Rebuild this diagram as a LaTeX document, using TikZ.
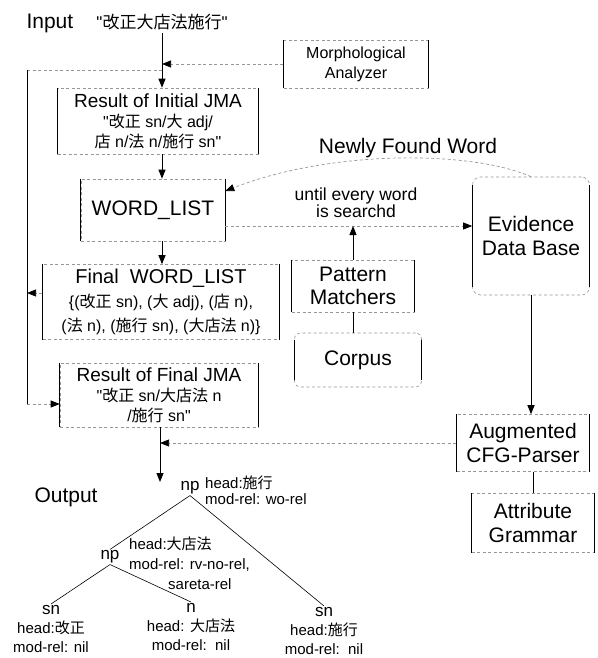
\documentclass[tikz,border=0pt]{standalone}
\usepackage{fontspec}
\setmainfont{Liberation Sans}[Ligatures=TeXOff]
\newfontfamily\jpfont{Noto Sans CJK JP}
\usetikzlibrary{arrows.meta}
\definecolor{scanline}{RGB}{150,150,150}
\newcommand{\jp}[1]{{\jpfont #1}}
\newcommand{\fsz}[2]{\fontsize{#1}{#2}\selectfont}
\newcommand{\dq}{\symbol{34}}
% solid left/right edges of a box (optionally inset for rounded ones)
\newcommand{\boxsides}[2][0]{%
  \draw[side] ([yshift=-#1pt]#2.north west) -- ([yshift=#1pt]#2.south west)
              ([yshift=-#1pt]#2.north east) -- ([yshift=#1pt]#2.south east);
}

\begin{document}
\begin{tikzpicture}[x=1pt,y=-1pt,
  box/.style={draw=scanline,dash pattern=on 3pt off 2.5pt,line width=0.6pt,
              inner sep=0pt,align=center},
  db/.style={box,rounded corners=8pt},
  side/.style={black,line width=1.1pt},
  faint/.style={scanline,dash pattern=on 3pt off 2.5pt,line width=0.7pt},
  arr/.style={line width=1pt,-{Triangle[length=9pt,width=7pt]}},
  harr/.style={faint,-{Triangle[length=9pt,width=7pt,color=black]}},
  big/.style={font=\fsz{21}{24}},
  tree/.style={line width=0.6pt}]
  \useasboundingbox (0,0) rectangle (597,658);
  \coordinate (col) at (162,0);
  \coordinate (outcol) at (160,0);
  \coordinate (loopt) at (27,70);
  \coordinate (loopb) at (27,404);
  \coordinate (srch) at (352,226);
  \coordinate (outtip) at (160,482);

  % --- Input and morphological analysis ---
  \node[big,anchor=west] (input) at (23,23) {Input};
  \node[font=\fsz{17}{20}] (instr) at (162,22) {\dq\jp{改正大店法施行}\dq};
  \node[box,minimum width=145,minimum height=48,font=\fsz{16}{20}] (morph) at (356,64)
    {Morphological\\Analyzer};
  \node[box,minimum width=201,minimum height=66,font=\fsz{16}{20}] (init) at (158,121)
    {{\fsz{19}{21}Result of Initial JMA}\\\dq\jp{改正} sn/\jp{大} adj/\\\jp{店} n/\jp{法} n/\jp{施行} sn\dq};
  \node[box,minimum width=144,minimum height=62,big] (wlist) at (153,210) {WORD\_LIST};
  \node[box,minimum width=237,minimum height=75,font=\fsz{16}{24}] (fwl) at (161,302)
    {{\fsz{20}{24}Final\ \ WORD\_LIST}\\\{(\jp{改正} sn), (\jp{大} adj), (\jp{店} n),\\(\jp{法} n), (\jp{施行} sn), (\jp{大店法} n)\}};
  \node[box,minimum width=198,minimum height=64,font=\fsz{16}{20}] (fres) at (159,395)
    {{\fsz{19}{21}Result of Final JMA}\\\dq\jp{改正} sn/\jp{大店法} n\\/\jp{施行} sn\dq};

  % --- word search ---
  \node[big] (newly) at (408,148) {Newly Found Word};
  \node[align=center,font=\fsz{17.5}{16}] (until) at (356,203) {until every word\\is searchd};
  \node[db,minimum width=117,minimum height=118,big] (ev) at (531,236) {Evidence\\Data Base};
  \node[box,minimum width=123,minimum height=52,font=\fsz{21}{23}] (pm) at (353,286) {Pattern\\Matchers};
  \node[db,rounded corners=6pt,minimum width=127,minimum height=54,big] (corpus) at (358,360) {Corpus};

  % --- parsing ---
  \node[box,minimum width=133,minimum height=57,big] (acfg) at (523,443) {Augmented\\CFG-Parser};
  \node[box,minimum width=123,minimum height=59,big] (ag) at (533,523) {Attribute\\Grammar};

  \boxsides{morph} \boxsides{init} \boxsides{wlist} \boxsides{fwl} \boxsides{fres}
  \boxsides{pm} \boxsides[7]{corpus} \boxsides[8]{ev} \boxsides{acfg} \boxsides{ag}

  % --- connectors ---
  \draw[arr] (instr.south -| col) -- (init.north -| col);
  \draw[harr] (morph.west) -- (morph.west -| col);
  \draw[faint] (loopt -| col) -- (loopt);
  \draw[side,line width=1pt] (loopt) -- (loopb);
  \draw[harr] (loopb) -- (loopb -| fres.west);
  \draw[harr] ([yshift=9pt]fwl.west) -- ([yshift=9pt]fwl.west -| loopt);
  \draw[arr] (init.south -| col) -- (wlist.north -| col);
  \draw[arr] (wlist.south -| col) -- (fwl.north -| col);
  \draw[faint,-{Triangle[length=9pt,width=7pt,color=black]}] (ev.north)
    .. controls (470,150) and (330,150) .. ([yshift=19pt]wlist.east);
  \draw[harr] (wlist.east |- srch) -- (ev.west |- srch);
  \draw[arr] (pm.north) -- (pm.north |- srch);
  \draw[line width=1pt] (pm.south) -- (pm.south |- corpus.north);
  \draw[arr] (ev.south) -- (ev.south |- acfg.north);
  \draw[line width=1pt] (ag.north |- acfg.south) -- (ag.north);
  \draw[arr] (fres.south -| outcol) -- (outtip);
  \draw[harr] (acfg.west) -- (acfg.west -| outcol);

  % --- output tree ---
  \node[big,anchor=west] (output) at (31,497) {Output};
  \node[font=\fsz{17}{20},inner sep=1pt] (np0) at (190,488) {np};
  \node[anchor=west,align=left,font=\fsz{15}{16},inner sep=0pt] (np0lab) at (205,490)
    {head:\jp{施行}\\mod-rel: wo-rel};
  \node[font=\fsz{17}{20},inner sep=1pt] (np1) at (110,557) {np};
  \node[anchor=west,align=left,font=\fsz{15}{20},inner sep=0pt] (np1lab) at (129,563)
    {head:\jp{大店法}\\mod-rel: rv-no-rel,\\\hspace*{2.6em}sareta-rel};
  \node[anchor=north,align=center,font=\fsz{15}{19},inner sep=1pt] (sn1) at (51,604)
    {{\fsz{17}{19}sn}\\head:\jp{改正}\\mod-rel: nil};
  \node[anchor=north,align=center,font=\fsz{15}{19},inner sep=1pt] (n1) at (191,602)
    {{\fsz{17}{19}n}\\head: \jp{大店法}\\mod-rel:\ \ nil};
  \node[anchor=north,align=center,font=\fsz{15}{19},inner sep=1pt] (sn2) at (324,606)
    {{\fsz{17}{19}sn}\\head:\jp{施行}\\mod-rel:\ \ nil};
  \draw[tree] (np0.south) -- (np1.north);
  \draw[tree] (np0.south) -- (sn2.north);
  \draw[tree] (np1.south) -- (sn1.north);
  \draw[tree] (np1.south) -- (n1.north);
\end{tikzpicture}
\end{document}
